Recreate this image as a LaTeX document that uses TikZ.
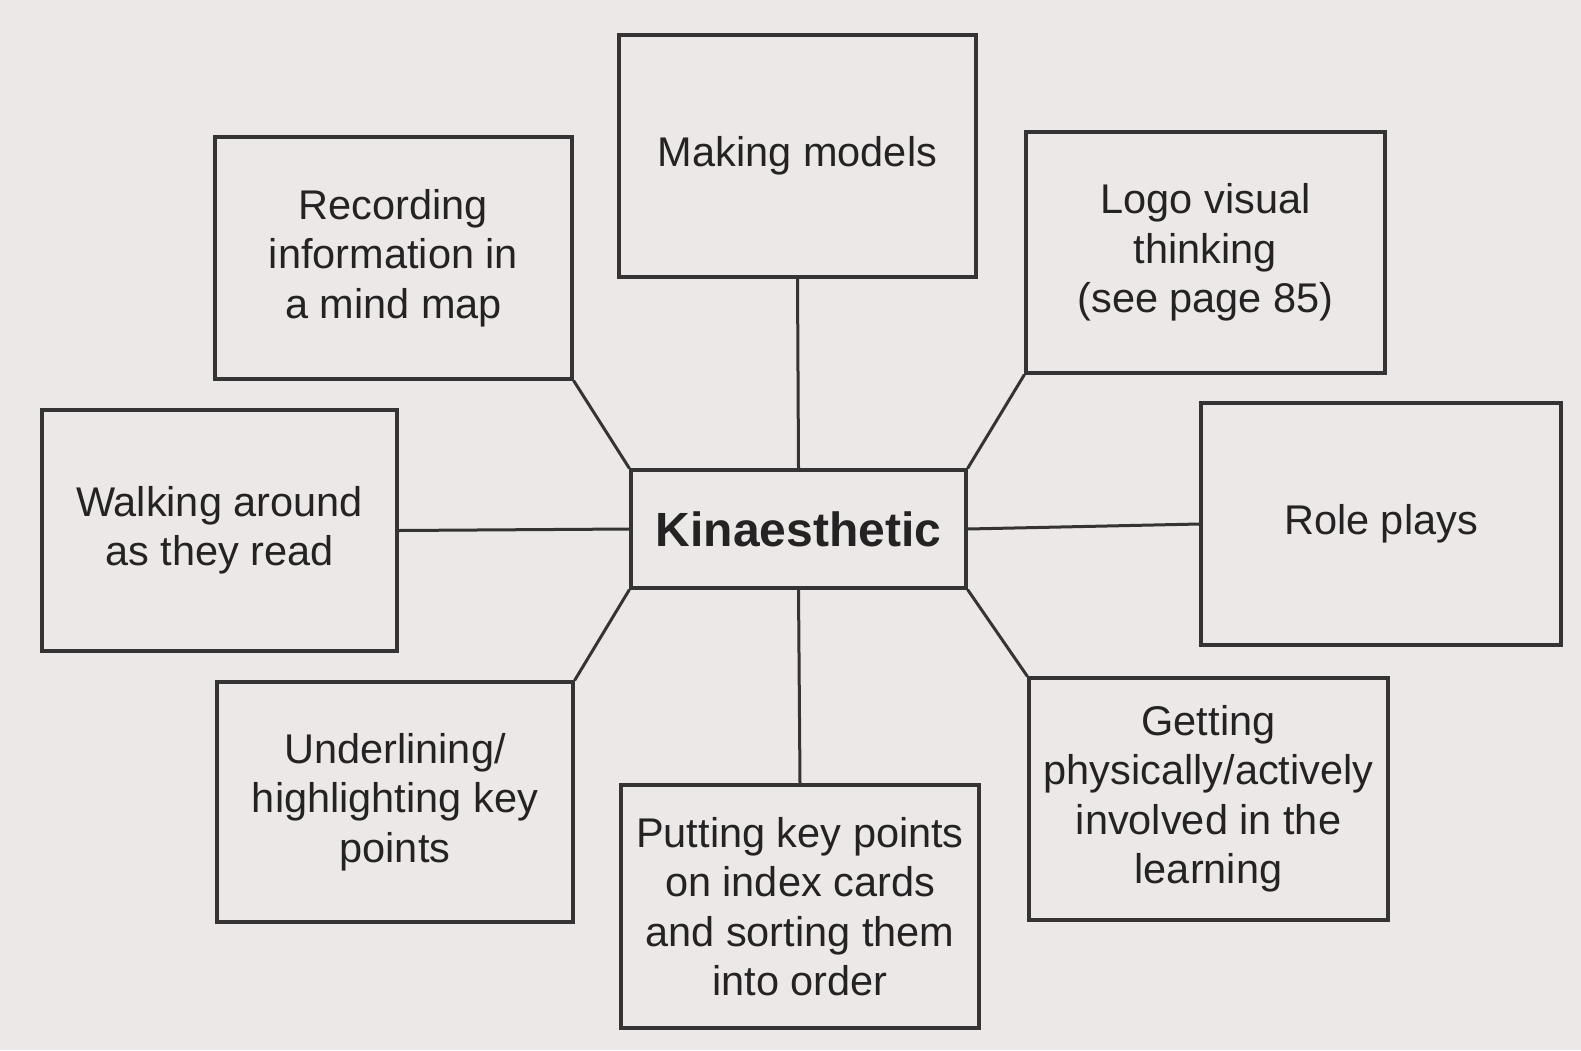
\documentclass[tikz,border=0pt]{standalone}
\usepackage{fontspec}
\setmainfont{Liberation Sans}
\definecolor{bg}{HTML}{ECE8E7}
\definecolor{ink}{HTML}{353333}
\definecolor{txt}{HTML}{242222}
\begin{document}
\begin{tikzpicture}[x=1pt,y=-1pt,
  box/.style={draw=ink,line width=3.2pt,rectangle,inner sep=0pt,align=center,text=txt,
    font=\fontsize{41.5}{49.5}\selectfont},
  link/.style={draw=ink,line width=3pt}]
\fill[bg] (0,0) rectangle (1581,1050);
\useasboundingbox (0,0) rectangle (1581,1050);
\node[box,minimum width=335pt,minimum height=118pt,font=\fontsize{48}{52}\selectfont\bfseries] (c) at (798.5,529) {Kinaesthetic};
\node[box,minimum width=357pt,minimum height=242pt] (mm) at (797.5,156) {Making models};
\node[box,minimum width=357pt,minimum height=242pt] (rec) at (393.5,258) {Recording\\information in\\a mind map};
\node[box,minimum width=359pt,minimum height=241pt] (logo) at (1205.5,252.5) {Logo visual\\thinking\\(see page 85)};
\node[box,minimum width=360pt,minimum height=242pt] (role) at (1381,524) {Role plays};
\node[box,minimum width=355pt,minimum height=241pt] (walk) at (219.5,530.5) {Walking around\\as they read};
\node[box,minimum width=356pt,minimum height=240pt] (und) at (395,802) {Underlining/\\highlighting key\\points};
\node[box,minimum width=358pt,minimum height=243pt] (put) at (800,906.5) {Putting key points\\on index cards\\and sorting them\\into order};
\node[box,minimum width=359pt,minimum height=242pt] (get) at (1208.5,799) {Getting\\physically/actively\\involved in the\\learning};
\draw[link] (mm.south) -- (c.north);
\draw[link] (rec.south east) -- (c.north west);
\draw[link] (logo.south west) -- (c.north east);
\draw[link] (walk.east) -- (c.west);
\draw[link] (role.west) -- (c.east);
\draw[link] (und.north east) -- (c.south west);
\draw[link] (put.north) -- (c.south);
\draw[link] (get.north west) -- (c.south east);
\end{tikzpicture}
\end{document}
